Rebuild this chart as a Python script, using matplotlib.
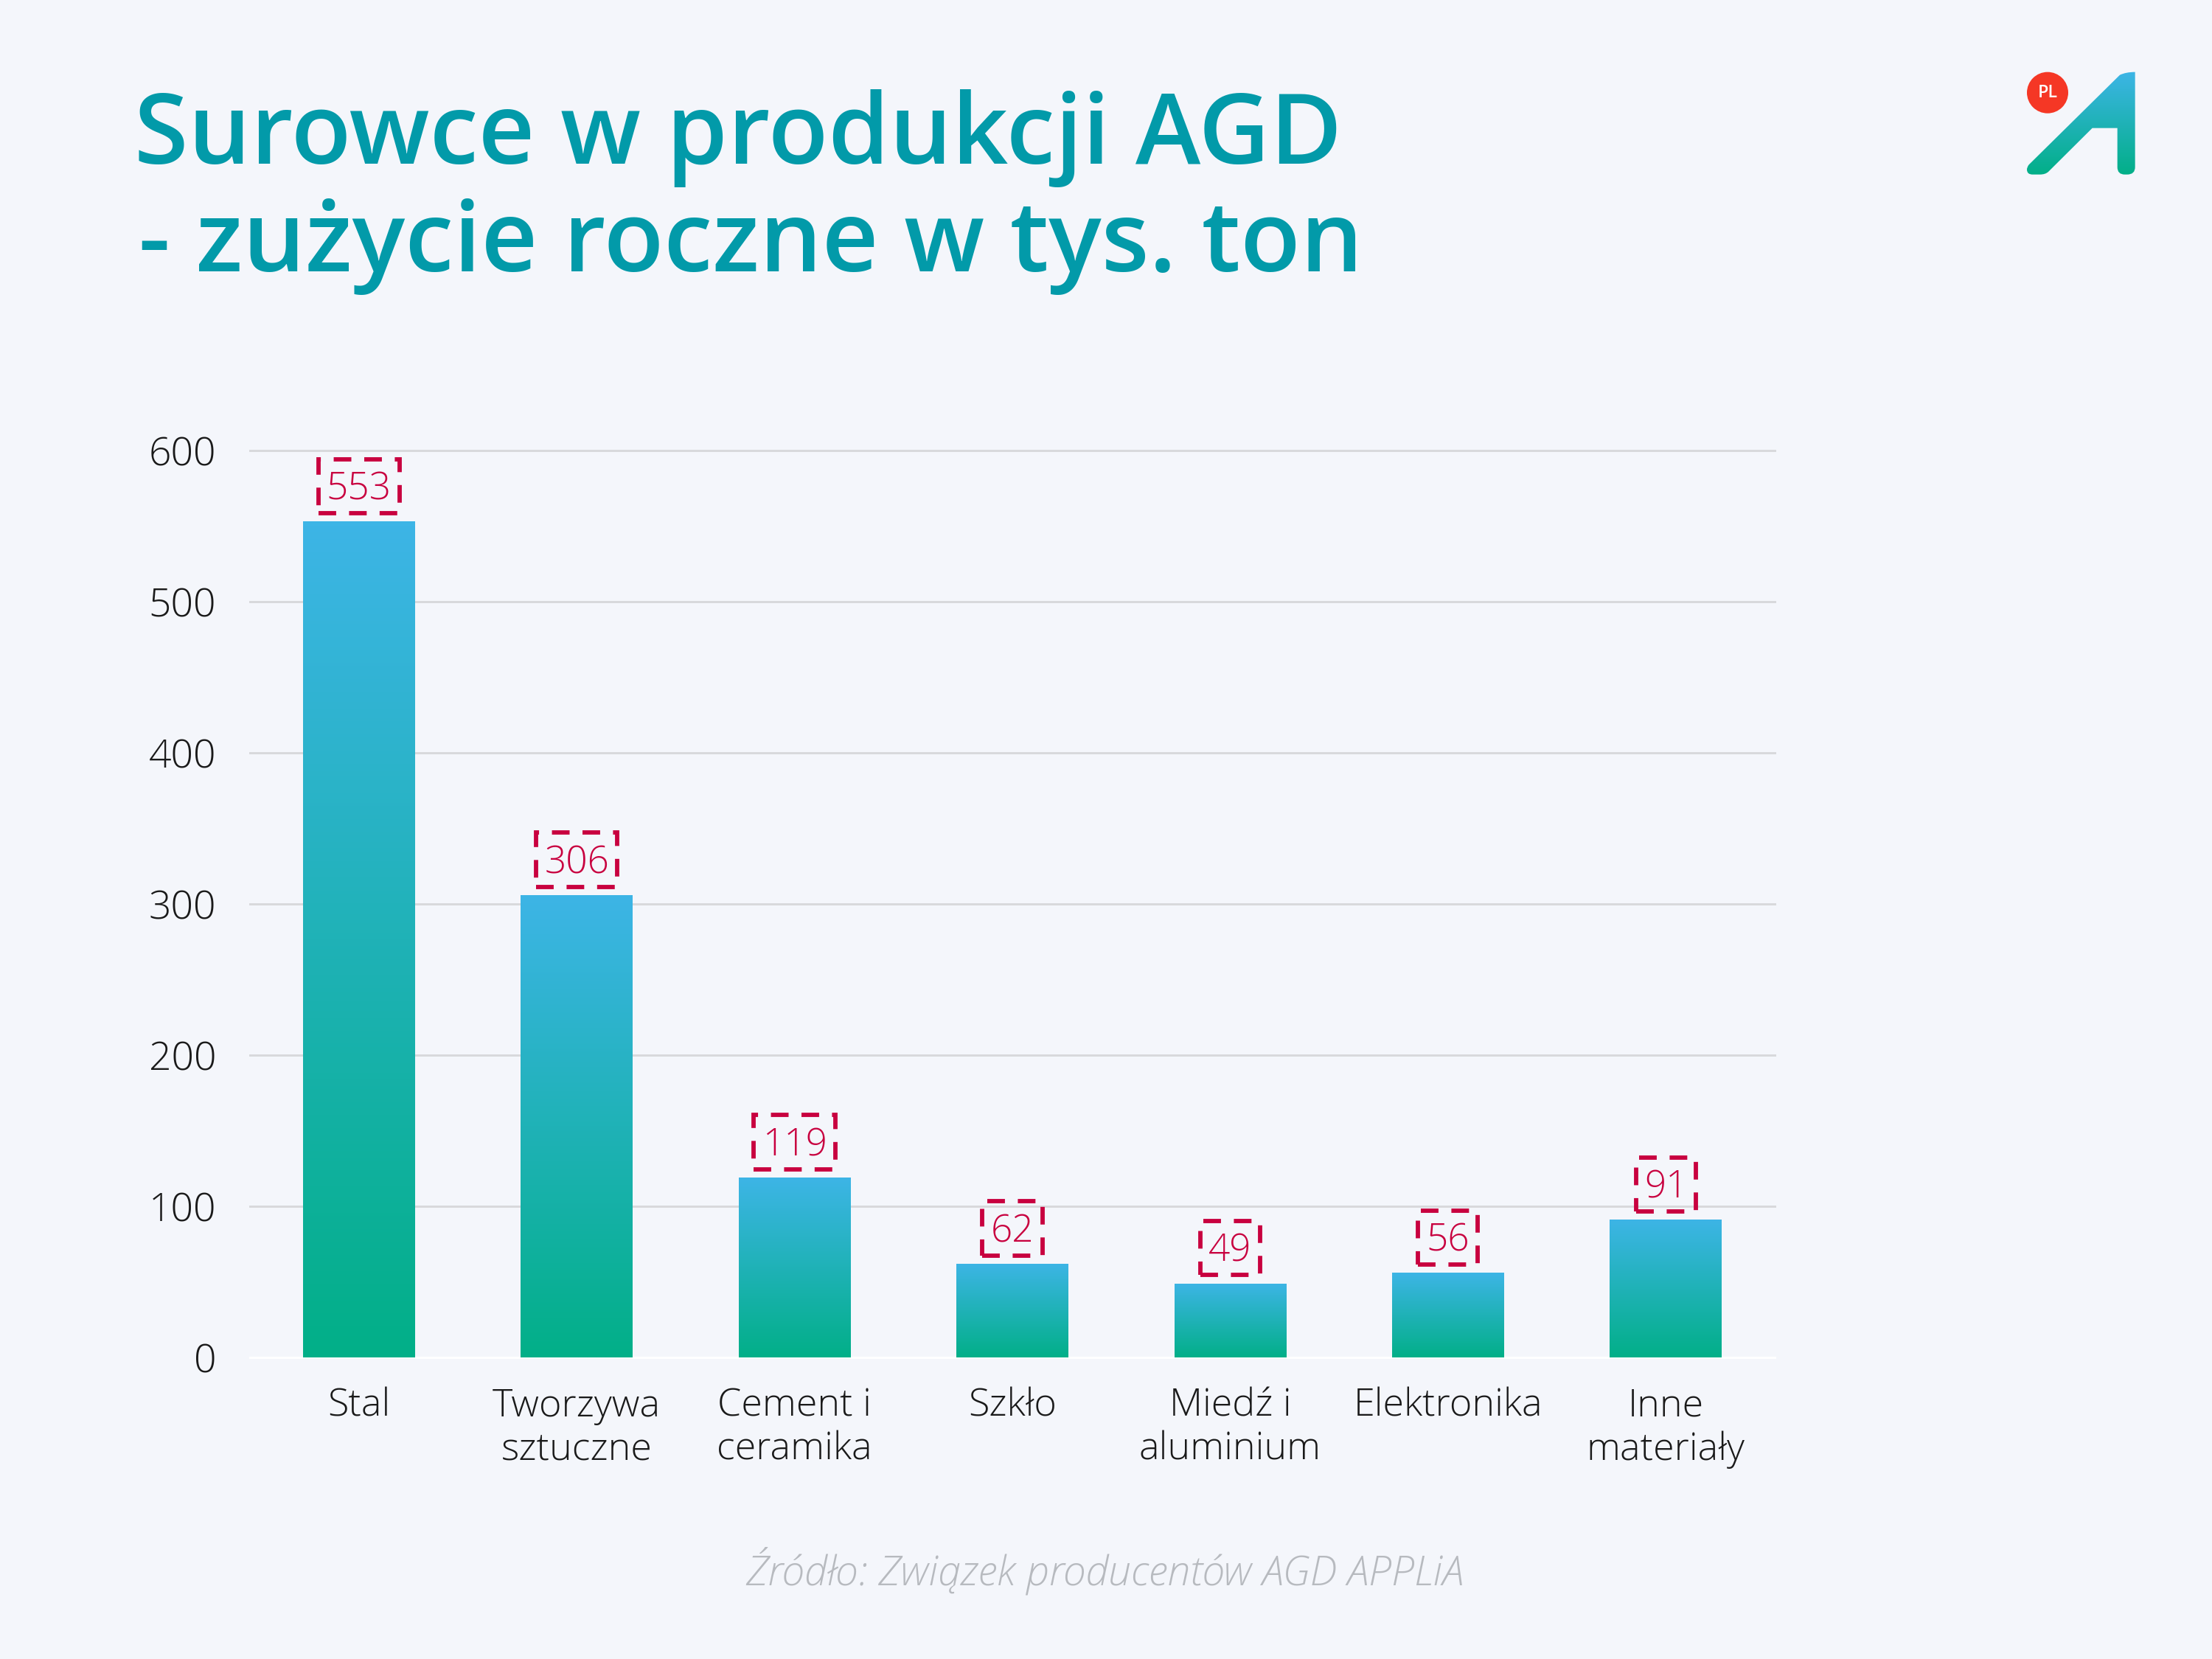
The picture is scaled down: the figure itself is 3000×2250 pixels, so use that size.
import numpy as np
import matplotlib
matplotlib.use("Agg")
import matplotlib.pyplot as plt
from matplotlib.colors import LinearSegmentedColormap
from matplotlib.path import Path
from matplotlib.patches import PathPatch, Circle

categories = ["Stal", "Tworzywa\nsztuczne", "Cement i\nceramika", "Szkło", "Miedź i\naluminium", "Elektronika", "Inne\nmateriały"]
values = [553, 306, 119, 62, 49, 56, 91]
yticks = [0, 100, 200, 300, 400, 500, 600]
title_lines = ["Surowce w produkcji AGD", "- zużycie roczne w tys. ton"]
source = "Źródło: Związek producentów AGD APPLiA"

BG = "#F4F6FB"
TEAL = "#029AA9"
RED = "#C8003F"
TEXT = "#1A1A1A"
W, H = 3000, 2250
cmap = LinearSegmentedColormap.from_list("g", ["#02AF88", "#3DB5E6"])
grad = np.linspace(0, 1, 256).reshape(-1, 1)

plt.rcParams["font.family"] = ["Open Sans", "DejaVu Sans"]
fig = plt.figure(figsize=(10, 7.5), dpi=300, facecolor=BG)
ax = fig.add_axes([339/W, 1-1841/H, (2407-339)/W, (1841-611)/H], facecolor="none")

bars = ax.bar(range(len(values)), values, width=0.514, facecolor="none", edgecolor="none", zorder=3)
for b in bars:
    im = ax.imshow(grad, origin="lower", cmap=cmap, aspect="auto", zorder=3, interpolation="bilinear",
                   extent=[b.get_x(), b.get_x()+b.get_width(), 0, b.get_height()])
    im.set_clip_path(b)

ax.set_xlim(-0.5, len(values)-0.5)
ax.set_ylim(0, 600)
for s in ax.spines.values():
    s.set_visible(False)
for t in yticks:
    ax.axhline(t, color="#FFFFFF" if t == 0 else "#D8D9DC", lw=0.72, zorder=1, clip_on=False)
ax.set_yticks(yticks)
ax.set_xticks(range(len(values)))
ax.set_xticklabels(categories, fontsize=12.5, fontweight="light", color=TEXT, linespacing=1.18)
ax.tick_params(axis="both", length=0)
ax.tick_params(axis="y", pad=11)
ax.tick_params(axis="x", pad=9.7)
for l in ax.get_yticklabels():
    l.set_fontsize(12.8); l.set_fontweight("light"); l.set_color(TEXT)

for i, v in enumerate(values):
    ax.annotate(str(v), (i, v), xytext=(0, 11.5), textcoords="offset points", ha="center", va="center",
                fontsize=12.3, color="none", zorder=5,
                bbox=dict(boxstyle="square,pad=0.22", fc="none", ec=RED, lw=1.4, ls=(0, (4.1, 3.0))))
    ax.annotate(str(v), (i, v), xytext=(0, 10.4), textcoords="offset points", ha="center", va="center",
                fontsize=12.3, fontweight="light", color=RED, zorder=6)

fig.text(182/W, 1-222/H, title_lines[0], fontsize=32, fontweight="semibold", color=TEAL, va="baseline")
fig.text(188/W, 1-368/H, title_lines[1], fontsize=32, fontweight="semibold", color=TEAL, va="baseline")
fig.text(1498/W, 1-2130/H, source, fontsize=13.3, fontstyle="italic", fontweight="light", color="#B7BABF", ha="center", va="center")

# logo, drawn in reference pixel coordinates
lg = fig.add_axes([0, 0, 1, 1], facecolor="none")
lg.set_xlim(0, W); lg.set_ylim(H, 0); lg.axis("off")
def P(x, y):
    return (2650 + x/3, 50 + y/3)
M, L, C = Path.MOVETO, Path.LINETO, Path.CURVE3
verts = [P(305, 520), P(675, 155), P(700, 143), P(737, 143), P(737, 180), P(737, 530), P(737, 560), P(705, 560),
         P(695, 560), P(665, 560), P(665, 530), P(665, 371), P(563, 371), P(385, 548), P(373, 560), P(350, 560),
         P(320, 560), P(297, 560), P(297, 540), P(297, 530), P(305, 520)]
codes = [M, L, C, C, C, L, C, C, L, C, C, L, L, L, C, C, L, C, C, C, C]
shape = PathPatch(Path(verts, codes), fc="none", ec="none")
lg.add_patch(shape)
x0, y0 = P(290, 143); x1, y1 = P(745, 560)
im = lg.imshow(grad, origin="lower", cmap=cmap, aspect="auto", extent=[x0, x1, y1, y0], interpolation="bilinear")
im.set_clip_path(shape)
lg.set_xlim(0, W); lg.set_ylim(H, 0)
cx, cy = P(381, 227)
lg.add_patch(Circle((cx, cy), 28, fc="#F53725", ec="none"))
lg.text(cx, cy, "PL", color="white", fontsize=5.6, fontweight="semibold", ha="center", va="center")

fig.savefig("out.png", dpi=300, facecolor=BG)
